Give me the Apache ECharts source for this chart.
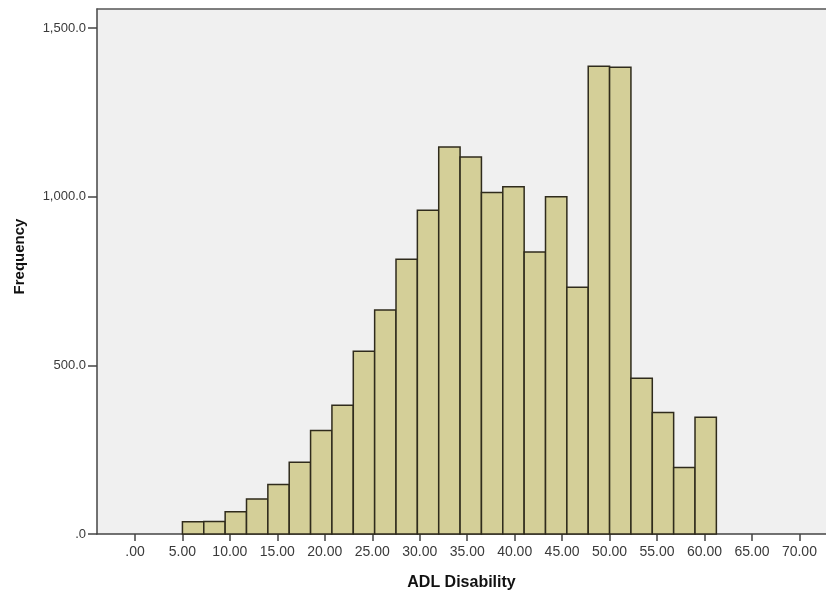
<!DOCTYPE html>
<html>
<head>
<meta charset="utf-8">
<script src="https://cdn.jsdelivr.net/npm/echarts@6/dist/echarts.min.js"></script>
<style>
html,body{margin:0;padding:0;background:#fff;}
#chart{width:826px;height:594px;}
</style>
</head>
<body>
<div id="chart"></div>
<script>
// Histogram bin edges (ADL Disability)
var binEdges = [5, 7.25, 9.5, 11.75, 14, 16.25, 18.5, 20.75, 23, 25.25, 27.5, 29.75, 32, 34.25, 36.5, 38.75, 41, 43.25, 45.5, 47.75, 50, 52.25, 54.5, 56.75, 59, 61.25];
// Frequency per bin
var frequencies = [36, 37, 66, 104, 147, 213, 307, 382, 542, 664, 815, 960, 1148, 1118, 1013, 1030, 836, 1000, 732, 1387, 1384, 462, 360, 197, 346];
// Axis ticks
var xTickValues = [0, 5, 10, 15, 20, 25, 30, 35, 40, 45, 50, 55, 60, 65, 70];
var xTickLabels = ['.00', '5.00', '10.00', '15.00', '20.00', '25.00', '30.00', '35.00', '40.00', '45.00', '50.00', '55.00', '60.00', '65.00', '70.00'];
var yTickValues = [0, 500, 1000, 1500];
var yTickLabels = ['.0', '500.0', '1,000.0', '1,500.0'];

var histData = frequencies.map(function (f, i) { return [binEdges[i], binEdges[i + 1], f]; });

var chart = echarts.init(document.getElementById('chart'));
var fam = 'Liberation Sans, Arial, sans-serif';
chart.setOption({
  animation: false,
  backgroundColor: '#ffffff',
  grid: { left: 97, right: 0, top: 9, bottom: 60, show: true, backgroundColor: '#f0f0f0', borderWidth: 0, containLabel: false, outerBoundsMode: 'none' },
  xAxis: [{
    type: 'value', min: -4, max: 72.8,
    name: 'ADL Disability', nameLocation: 'middle', nameGap: 41,
    nameTextStyle: { fontFamily: fam, fontSize: 16, fontWeight: 'bold', color: '#111' },
    axisLine: { show: true, onZero: false, lineStyle: { color: '#444', width: 1.5 } },
    axisTick: { show: true, length: 7, inside: false, customValues: xTickValues, lineStyle: { color: '#444', width: 1.5 } },
    axisLabel: { margin: 11, fontFamily: fam, fontSize: 14, color: '#3a3a3a', customValues: xTickValues, formatter: function (v) { return xTickLabels[xTickValues.indexOf(v)]; } },
    splitLine: { show: false }
  }, {
    type: 'value', min: -4, max: 72.8, position: 'top',
    axisLine: { show: true, onZero: false, lineStyle: { color: '#555', width: 1.5 } },
    axisTick: { show: false }, axisLabel: { show: false }, splitLine: { show: false }
  }],
  yAxis: {
    type: 'value', min: 0, max: 1557,
    name: 'Frequency', nameLocation: 'middle', nameGap: 70, nameRotate: 90,
    nameTextStyle: { fontFamily: fam, fontSize: 15, fontWeight: 'bold', color: '#111', padding: [0, 0, 0, 30] },
    axisLine: { show: true, onZero: false, lineStyle: { color: '#444', width: 1.5 } },
    axisTick: { show: true, length: 9, customValues: yTickValues, lineStyle: { color: '#444', width: 1.5 } },
    axisLabel: { margin: 11, fontFamily: fam, fontSize: 13, color: '#3a3a3a', customValues: yTickValues, formatter: function (v) { return yTickLabels[yTickValues.indexOf(v)]; } },
    splitLine: { show: false }
  },
  series: [{
    type: 'custom',
    xAxisIndex: 0,
    data: histData,
    encode: { x: [0, 1], y: 2 },
    renderItem: function (params, api) {
      var p0 = api.coord([api.value(0), api.value(2)]);
      var p1 = api.coord([api.value(1), 0]);
      return {
        type: 'rect',
        shape: { x: p0[0], y: p0[1], width: p1[0] - p0[0], height: p1[1] - p0[1] },
        style: { fill: '#d4cf98', stroke: '#2f2b1c', lineWidth: 1.5 }
      };
    }
  }]
});
</script>
</body>
</html>
